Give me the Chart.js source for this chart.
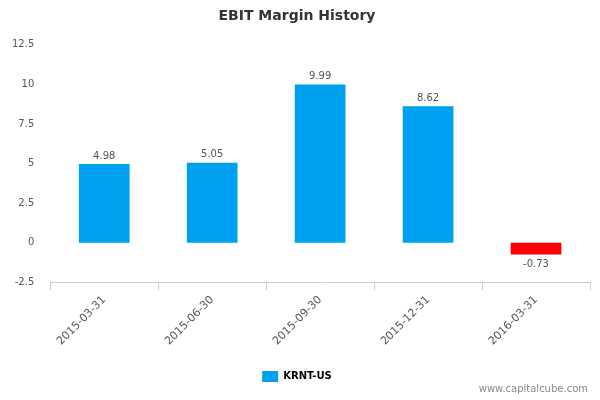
<!DOCTYPE html>
<html>
<head>
<meta charset="utf-8">
<script src="https://cdn.jsdelivr.net/npm/chart.js@4"></script>
<style>
  body { margin: 0; background: #fff; }
  #wrap { position: relative; width: 600px; height: 400px; }
  #credit { position: absolute; right: 12px; bottom: 6px; font: 10px "DejaVu Sans", sans-serif; color: #888; }
</style>
</head>
<body>
<div id="wrap">
  <canvas id="chart" width="600" height="400"></canvas>
  <div id="credit">www.capitalcube.com</div>
</div>
<script>
const categories = ['2015-03-31', '2015-06-30', '2015-09-30', '2015-12-31', '2016-03-31'];
const margins = [4.98, 5.05, 9.99, 8.62, -0.73];
const seriesName = 'KRNT-US';

// valeurs négatives en rouge
const barColors = margins.map(v => v < 0 ? '#ff0000' : '#00a0f0');

// étiquettes de valeur au-dessus (ou en dessous) des barres
const valueLabels = {
    id: 'valueLabels',
    afterDatasetsDraw(chart) {
        const ctx = chart.ctx;
        const meta = chart.getDatasetMeta(0);
        ctx.save();
        ctx.font = '10px "DejaVu Sans", sans-serif';
        ctx.fillStyle = '#555';
        ctx.textAlign = 'center';
        meta.data.forEach((bar, i) => {
            const v = margins[i];
            if (v >= 0) {
                ctx.textBaseline = 'bottom';
                ctx.fillText(v.toFixed(2), bar.x, bar.y - 3);
            } else {
                ctx.textBaseline = 'top';
                ctx.fillText(v.toFixed(2), bar.x, bar.y + 5);
            }
        });
        ctx.restore();
    }
};

new Chart(document.getElementById('chart'), {
    type: 'bar',
    data: {
        labels: categories,
        datasets: [{
            label: seriesName,
            data: margins,
            backgroundColor: barColors,
            barPercentage: 0.47,
            categoryPercentage: 1.0
        }]
    },
    options: {
        responsive: false,
        animation: false,
        layout: { padding: { left: 4, right: 10, top: 0, bottom: 8 } },
        plugins: {
            title: {
                display: true,
                text: 'EBIT Margin History',
                color: '#333',
                font: { family: 'DejaVu Sans', size: 14, weight: 'bold' },
                padding: { top: 8, bottom: 20 }
            },
            legend: {
                position: 'bottom',
                labels: {
                    color: '#333',
                    font: { family: 'DejaVu Sans', size: 10, weight: 'bold' },
                    boxWidth: 16,
                    boxHeight: 11,
                    padding: 20,
                    generateLabels: () => [{ text: seriesName, fillStyle: '#00a0f0', strokeStyle: '#00a0f0', lineWidth: 0 }]
                }
            },
            tooltip: { enabled: false }
        },
        scales: {
            y: {
                min: -2.5,
                max: 12.5,
                ticks: {
                    stepSize: 2.5,
                    color: '#555',
                    font: { family: 'DejaVu Sans', size: 10 },
                    padding: 8
                },
                grid: { display: false },
                border: { display: false }
            },
            x: {
                ticks: {
                    color: '#555',
                    font: { family: 'DejaVu Sans', size: 11 },
                    maxRotation: 45,
                    minRotation: 45
                },
                grid: { display: true, offset: true, drawOnChartArea: false, color: '#c0d0e0', tickLength: 8 },
                border: { display: true, color: '#c0d0e0' }
            }
        }
    },
    plugins: [valueLabels]
});
</script>
</body>
</html>
